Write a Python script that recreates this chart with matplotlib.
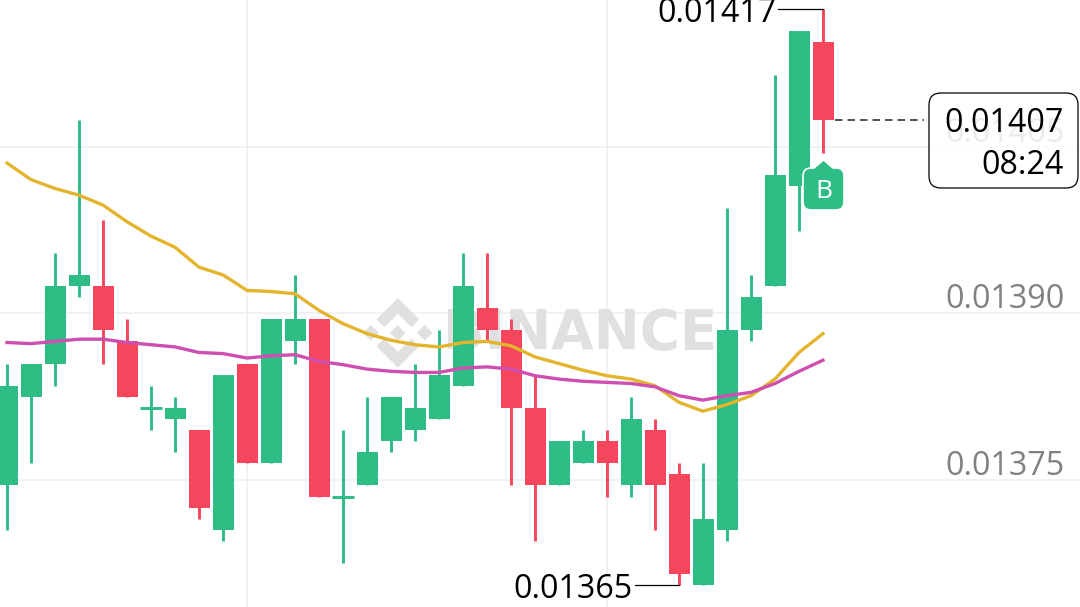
import numpy as np
import matplotlib
matplotlib.use("Agg")
import matplotlib.pyplot as plt
from matplotlib.patches import FancyBboxPatch, Polygon
from matplotlib.transforms import Affine2D

plt.rcParams["font.family"] = ["Open Sans", "DejaVu Sans"]

# prices in units of 0.00001
opens = [1374, 1382, 1385, 1392, 1392, 1387, 1381, 1380, 1379, 1370, 1385, 1376,
         1387, 1389, 1373, 1374, 1378, 1379, 1380, 1383, 1390, 1388, 1381, 1374,
         1376, 1378, 1374, 1379, 1375, 1365, 1370, 1388, 1392, 1401, 1414]
closes = [1383, 1385, 1392, 1393, 1388, 1382, 1381, 1381, 1372, 1384, 1376, 1389,
          1389, 1373, 1373, 1377, 1382, 1381, 1384, 1392, 1388, 1381, 1374, 1378,
          1378, 1376, 1380, 1374, 1366, 1371, 1388, 1391, 1402, 1415, 1407]
highs = [1385, 1385, 1395, 1407, 1398, 1389, 1383, 1382, 1379, 1384, 1385, 1389,
         1393, 1389, 1379, 1382, 1382, 1385, 1388, 1395, 1395, 1389, 1384, 1378,
         1379, 1379, 1382, 1380, 1376, 1376, 1399, 1393, 1411, 1415, 1417]
lows = [1370, 1376, 1383, 1391, 1385, 1382, 1379, 1377, 1371, 1369, 1376, 1376,
        1385, 1373, 1367, 1374, 1377, 1378, 1380, 1383, 1387, 1374, 1369, 1374,
        1376, 1373, 1373, 1370, 1365, 1365, 1369, 1387, 1392, 1397, 1404]
ma_yellow = [1403.1, 1401.6, 1400.8, 1400.2, 1399.3, 1397.8, 1396.5, 1395.5, 1393.7,
             1393.0, 1391.6, 1391.5, 1391.3, 1389.8, 1388.6, 1387.7, 1387.1, 1386.7,
             1386.5, 1386.9, 1387.0, 1386.6, 1385.6, 1385.0, 1384.4, 1383.9, 1383.6,
             1383.0, 1381.5, 1380.7, 1381.3, 1382.1, 1383.6, 1386.0, 1387.7]
ma_magenta = [1386.9, 1386.8, 1387.0, 1387.2, 1387.2, 1386.9, 1386.7, 1386.5, 1386.0,
              1385.9, 1385.5, 1385.7, 1385.8, 1385.2, 1384.9, 1384.5, 1384.3, 1384.2,
              1384.2, 1384.6, 1384.7, 1384.5, 1383.9, 1383.6, 1383.4, 1383.3, 1383.2,
              1382.9, 1382.1, 1381.7, 1382.1, 1382.4, 1383.2, 1384.3, 1385.3]
grid_prices = [1404.55, 1389.56, 1374.5]
grid_labels = ["0.01405", "0.01390", "0.01375"]
grid_candles = [10, 25]

GREEN = "#2EBD85"
RED = "#F6465D"
W, H = 1080, 607

fig = plt.figure(figsize=(W / 100, H / 100), dpi=100)
ax = fig.add_axes([0, 0, 1, 1])
ax.set_xlim(-7 / 24, (W - 7) / 24)
ax.set_ylim(1417 - (H - 9) / 11.08, 1417 + 9 / 11.08)
ax.axis("off")

# pixel coordinates with the origin at the top left, for the overlays
px = Affine2D().scale(1, -1).translate(0, H)

for p in grid_prices:
    ax.axhline(p, color="#EFEFEF", lw=1.1, zorder=1)
for c in grid_candles:
    ax.axvline(c, color="#EFEFEF", lw=1.1, zorder=1)

# watermark
logo_parts = [
    [(38.73, 53.2), (63.3, 28.64), (87.89, 53.22), (102.19, 38.92), (63.3, 0), (24.42, 38.9)],
    [(0, 63.31), (14.3, 49.01), (28.6, 63.31), (14.3, 77.61)],
    [(63.3, 49.01), (77.61, 63.31), (63.3, 77.61), (49, 63.31)],
    [(98, 63.31), (112.3, 49), (126.6, 63.3), (112.3, 77.6)],
    [(38.73, 73.41), (24.42, 87.7), (63.3, 126.61), (102.19, 87.7), (87.89, 73.41), (63.3, 97.97)],
]
for part in logo_parts:
    pts = [(363 + x * 0.55, 298 + y * 0.55) for x, y in part]
    ax.add_patch(Polygon(pts, closed=True, fc="#E0E0E0", ec="none", transform=px, zorder=2))
ax.text(443, 334, "BINANCE", transform=px, family="DejaVu Sans", fontsize=39.5, fontweight="bold",
        color="#E0E0E0", ha="left", va="center", zorder=2)

# y labels sit above their grid line
for p, label in zip(grid_prices, grid_labels):
    ax.annotate(label, xy=(1, p), xycoords=("axes fraction", "data"), xytext=(-11, -2),
                textcoords="offset points", ha="right", va="bottom", fontsize=23.2,
                color="#808080", zorder=2)

# candles
x = np.arange(len(opens))
for i in x:
    color = GREEN if closes[i] >= opens[i] else RED
    ax.vlines(i, lows[i], highs[i], color=color, lw=2.1, zorder=3)
    if opens[i] == closes[i]:
        ax.hlines(opens[i], i - 0.44, i + 0.44, color=color, lw=2.1, zorder=3)
    else:
        bottom = min(opens[i], closes[i])
        ax.bar(i, abs(closes[i] - opens[i]), bottom=bottom, width=0.875, color=color, zorder=3)

ax.plot(x, ma_yellow, color="#E3B52E", lw=2.4, zorder=4)
ax.plot(x, ma_magenta, color="#CF4FB0", lw=2.4, zorder=4)

# high and low labels
ax.plot([(778 - 7) / 24, x[-1]], [highs[-1], highs[-1]], color="black", lw=0.9, zorder=5)
ax.text(777, 14, "0.01417", transform=px, ha="right", va="center", fontsize=23.2, color="black", zorder=5)
ax.plot([(635 - 7) / 24, x[-7]], [min(lows), min(lows)], color="black", lw=0.9, zorder=5)
ax.text(633, 589, "0.01365", transform=px, ha="right", va="center", fontsize=23.2, color="black", zorder=5)

# buy badge
ax.add_patch(FancyBboxPatch((808, 173), 31, 32, boxstyle="round,pad=5,rounding_size=8", fc=GREEN,
                            ec="white", lw=1.2, transform=px, zorder=6))
ax.add_patch(Polygon([(813, 170), (823.5, 161), (834, 170)], closed=True, fc=GREEN, ec="none",
                     transform=px, zorder=6))
ax.text(824, 192, "B", transform=px, ha="center", va="center", fontsize=19, color="white", zorder=7)

# current price box
ax.plot([x[-1] + 0.5, (924 - 7) / 24], [closes[-1], closes[-1]], color="#333333", lw=1.2,
        ls=(0, (4.5, 3)), zorder=5)
ax.add_patch(FancyBboxPatch((941, 105), 125, 71, boxstyle="round,pad=12,rounding_size=12", fc="white",
                            alpha=0.85, ec="none", transform=px, zorder=5))
ax.add_patch(FancyBboxPatch((941, 105), 125, 71, boxstyle="round,pad=12,rounding_size=12", fc="none",
                            ec="black", lw=0.9, transform=px, zorder=6))
ax.text(1064, 124, "0.01407", transform=px, ha="right", va="center", fontsize=23.2, color="black", zorder=7)
ax.text(1064, 166, "08:24", transform=px, ha="right", va="center", fontsize=23.2, color="black", zorder=7)

fig.savefig("out.png", dpi=100)
